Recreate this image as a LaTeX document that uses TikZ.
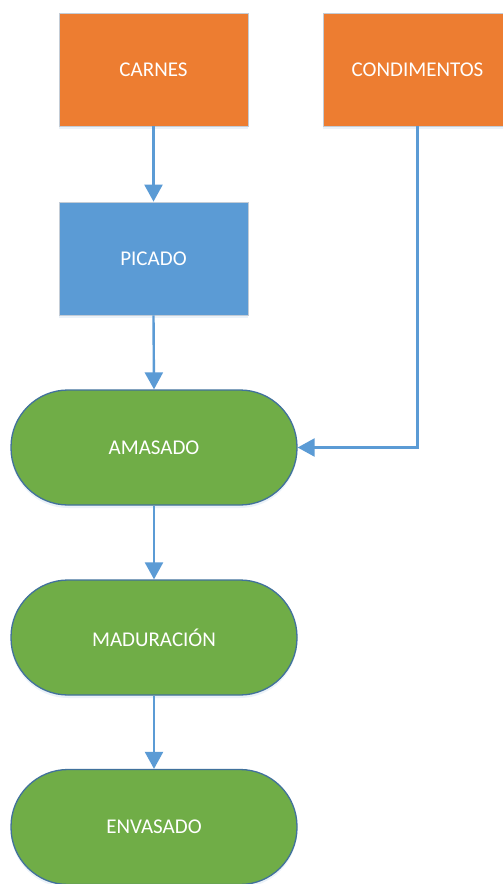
\documentclass[tikz,border=0pt]{standalone}
\usepackage{fontspec}
\setmainfont{Carlito}
\usetikzlibrary{arrows.meta,shadows}
\definecolor{boxorange}{HTML}{ED7D31}
\definecolor{boxblue}{HTML}{5B9BD5}
\definecolor{boxgreen}{HTML}{70AD47}
\definecolor{greenedge}{HTML}{41719C}
\definecolor{paleedge}{HTML}{C3CCD6}
\definecolor{flowline}{HTML}{5B9BD5}
\begin{document}
\begin{tikzpicture}[x=1pt,y=-1pt,
  base/.style={inner sep=0pt, text=white, font=\fontsize{21}{25}\selectfont,
    drop shadow={opacity=0.12, shadow xshift=0pt, shadow yshift=-3pt, fill=boxblue}},
  srcbox/.style={base, rectangle, fill=boxorange, draw=paleedge, line width=0.8pt,
    minimum width=189pt, minimum height=113pt},
  cutbox/.style={base, rectangle, fill=boxblue, draw=paleedge, line width=0.8pt,
    minimum width=189pt, minimum height=113pt},
  stagebox/.style={base, rectangle, rounded corners=57pt, fill=boxgreen,
    draw=greenedge, line width=1.3pt, minimum width=286pt, minimum height=115pt},
  flow/.style={draw=flowline, line width=2.4pt,
    -{Triangle[length=17pt,width=18pt]}}]
\useasboundingbox (0,0) rectangle (503,884);
\clip (0,0) rectangle (503,884);
\fill[white] (0,0) rectangle (503,884);

\node[srcbox]   (carnes)     at (153.5,69.5)  {CARNES};
\node[srcbox]   (condim)     at (417.5,69.5)  {CONDIMENTOS};
\node[cutbox]   (picado)     at (153.5,258.5) {PICADO};
\node[stagebox] (amasado)    at (154,447.5)   {AMASADO};
\node[stagebox] (maduracion) at (154,637.5)   {MADURACIÓN};
\node[stagebox] (envasado)   at (154,827)     {ENVASADO};

\draw[flow] (carnes.south) -- (picado.north);
\draw[flow] (picado.south) -- (amasado.north);
\draw[flow] (condim.south) |- (amasado.east);
\draw[flow] (amasado.south) -- (maduracion.north);
\draw[flow] (maduracion.south) -- (envasado.north);
\end{tikzpicture}
\end{document}
